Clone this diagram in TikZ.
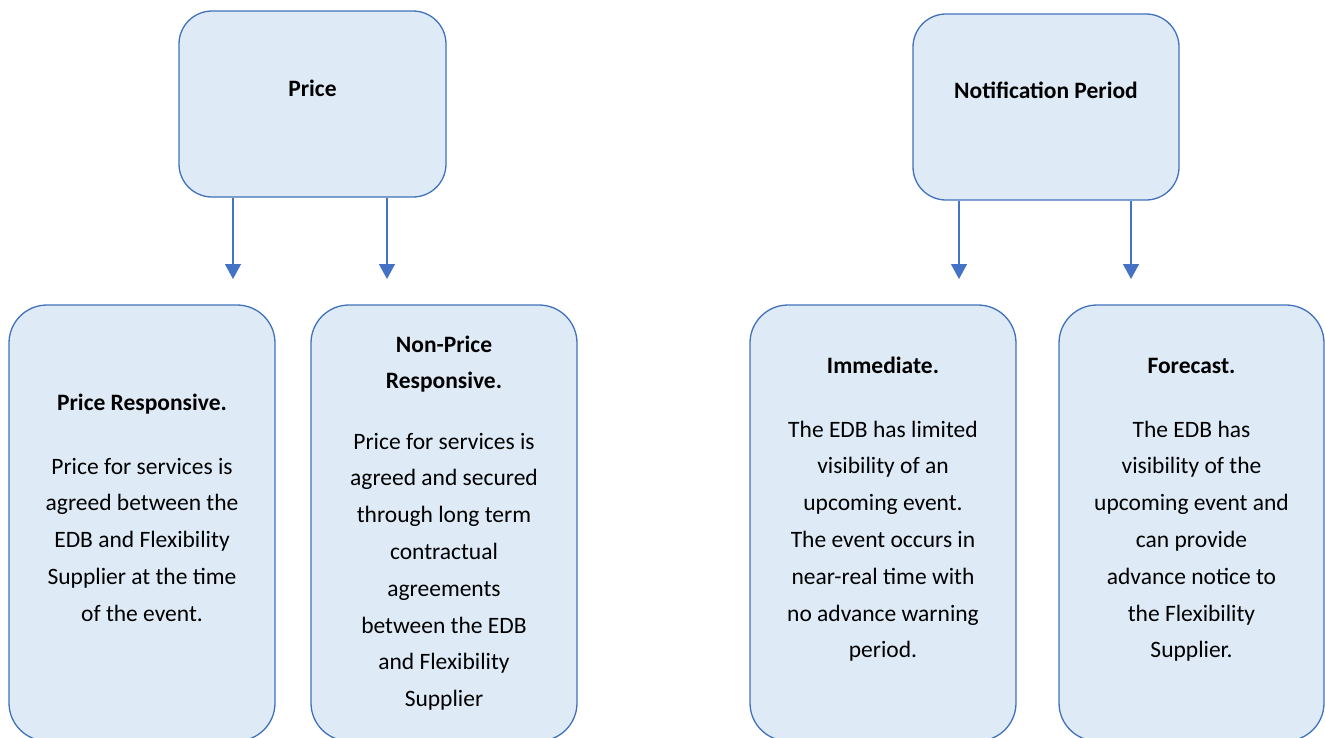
\documentclass[tikz,border=0pt]{standalone}
\usepackage{fontspec}
\setmainfont{Carlito}
\usetikzlibrary{arrows.meta}
\definecolor{boxfill}{HTML}{DEEBF7}
\definecolor{boxline}{RGB}{65,113,185}
\definecolor{arrowcol}{HTML}{4472C4}
\tikzset{
  catbox/.style={draw=boxline, fill=boxfill, line width=1.3pt, rounded corners=33pt, inner sep=0pt},
  subbox/.style={catbox, rounded corners=38pt},
  headtxt/.style={font=\fontsize{23.5}{36}\selectfont\bfseries, align=center, inner sep=0pt},
  bodytxt/.style={font=\fontsize{23.5}{36.8}\selectfont, align=center, inner sep=0pt, anchor=north},
  flow/.style={draw=arrowcol, line width=1.3pt, -{Triangle[width=16pt,length=15pt]}}
}
\begin{document}
\begin{tikzpicture}[x=1pt,y=-1pt]
\useasboundingbox (0,0) rectangle (1325,737);
% top boxes
\node[catbox, minimum width=267pt, minimum height=186pt] (price) at (312.5,104) {};
\node[catbox, minimum width=266pt, minimum height=186pt] (notif) at (1046,107) {};
\node[headtxt, anchor=base] (pricet) at (312.5,96) {Price};
\node[headtxt, anchor=base] (notift) at (1046,98) {Notification Period};
% bottom boxes
\node[subbox, minimum width=266pt, minimum height=436pt] (pr) at (142,523) {};
\node[subbox, minimum width=266pt, minimum height=436pt] (npr) at (444,523) {};
\node[subbox, minimum width=266pt, minimum height=436pt] (imm) at (883,523) {};
\node[subbox, minimum width=265pt, minimum height=436pt] (fc) at (1191.5,523) {};
% arrow end points
\coordinate (a1) at (233,279);
\coordinate (a2) at (387,279);
\coordinate (a3) at (959,279);
\coordinate (a4) at (1131,279);
\draw[flow] (price.south -| a1) -- (a1);
\draw[flow] (price.south -| a2) -- (a2);
\draw[flow] (notif.south -| a3) -- (a3);
\draw[flow] (notif.south -| a4) -- (a4);
% texts
\node[headtxt, anchor=base] (prh) at (142,410) {Price Responsive.};
\node[bodytxt] (prb) at (142,448.2) {\strut Price for services is\\agreed between the\\EDB and Flexibility\\Supplier at the time\\of the event.};
\node[headtxt, anchor=north] (nprh) at (444,326.8) {\strut Non-Price\\Responsive.};
\node[bodytxt] (nprb) at (444,423.2) {\strut Price for services is\\agreed and secured\\through long term\\contractual\\agreements\\between the EDB\\and Flexibility\\Supplier};
\node[headtxt, anchor=base] (immh) at (883,373) {Immediate.};
\node[bodytxt] (immb) at (883,411.2) {\strut The EDB has limited\\visibility of an\\upcoming event.\\The event occurs in\\near-real time with\\no advance warning\\period.};
\node[headtxt, anchor=base] (fch) at (1191.5,373) {Forecast.};
\node[bodytxt] (fcb) at (1191.5,411.2) {\strut The EDB has\\visibility of the\\upcoming event and\\can provide\\advance notice to\\the Flexibility\\Supplier.};
\end{tikzpicture}
\end{document}
